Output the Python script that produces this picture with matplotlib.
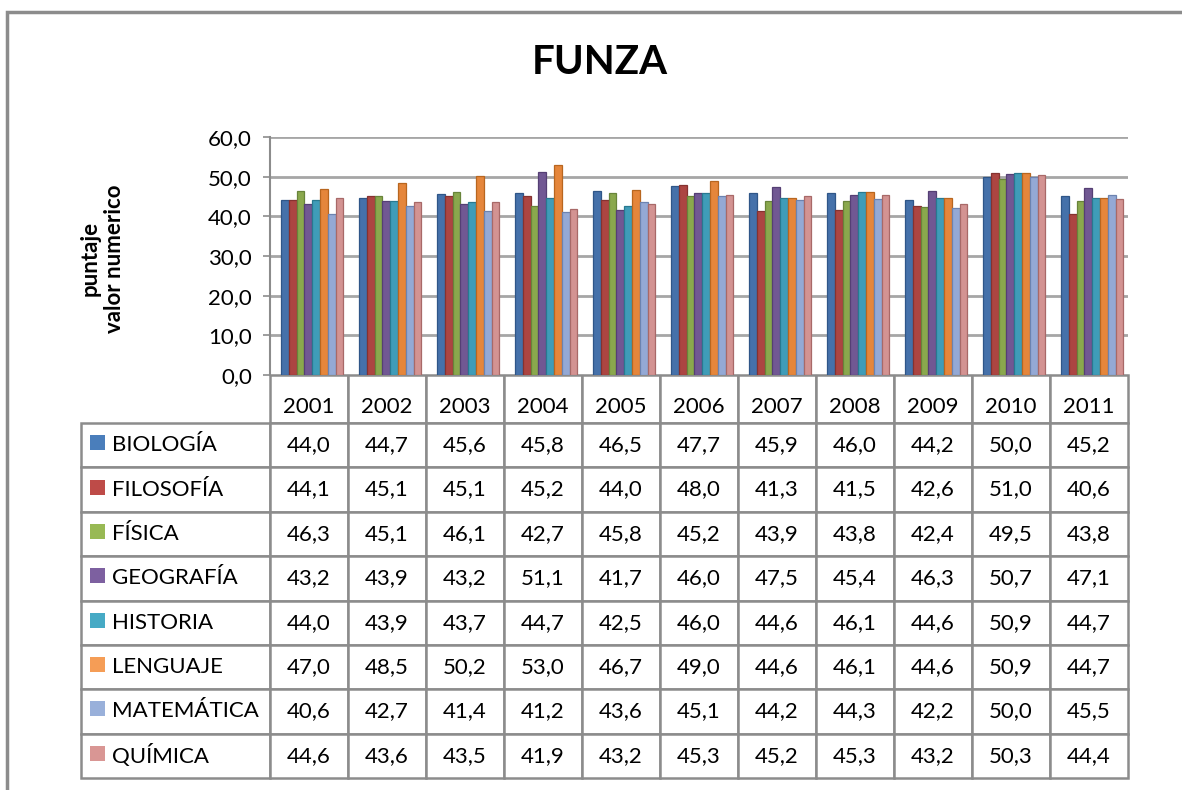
import numpy as np
import matplotlib
matplotlib.use("Agg")
import matplotlib.pyplot as plt
from matplotlib.table import Table
from matplotlib.patches import Rectangle
from matplotlib.ticker import FuncFormatter

plt.rcParams['font.family'] = ['Lato', 'DejaVu Sans']

years = ['2001', '2002', '2003', '2004', '2005', '2006', '2007', '2008', '2009', '2010', '2011']
subjects = ['BIOLOGÍA', 'FILOSOFÍA', 'FÍSICA', 'GEOGRAFÍA', 'HISTORIA',
            'LENGUAJE', 'MATEMÁTICA', 'QUÍMICA']

biologia = [44.0, 44.7, 45.6, 45.8, 46.5, 47.7, 45.9, 46.0, 44.2, 50.0, 45.2]
filosofia = [44.1, 45.1, 45.1, 45.2, 44.0, 48.0, 41.3, 41.5, 42.6, 51.0, 40.6]
fisica = [46.3, 45.1, 46.1, 42.7, 45.8, 45.2, 43.9, 43.8, 42.4, 49.5, 43.8]
geografia = [43.2, 43.9, 43.2, 51.1, 41.7, 46.0, 47.5, 45.4, 46.3, 50.7, 47.1]
historia = [44.0, 43.9, 43.7, 44.7, 42.5, 46.0, 44.6, 46.1, 44.6, 50.9, 44.7]
lenguaje = [47.0, 48.5, 50.2, 53.0, 46.7, 49.0, 44.6, 46.1, 44.6, 50.9, 44.7]
matematica = [40.6, 42.7, 41.4, 41.2, 43.6, 45.1, 44.2, 44.3, 42.2, 50.0, 45.5]
quimica = [44.6, 43.6, 43.5, 41.9, 43.2, 45.3, 45.2, 45.3, 43.2, 50.3, 44.4]

series = [biologia, filosofia, fisica, geografia, historia, lenguaje, matematica, quimica]
# bar colours (shaded) and legend key colours (flat)
colors = ['#4571aa', '#ac4542', '#8aa84d', '#715893', '#3f9cb8', '#e5863b', '#94a9d5', '#d39392']
keys = ['#4a7ebb', '#be4b48', '#98b954', '#7d60a0', '#46aac5', '#f59d56', '#99b0da', '#d99694']
edges = ['#2f5688', '#853230', '#68843a', '#553f74', '#287990', '#b8661f', '#6c83b0', '#a86968']

W, H = 1182, 790
fig = plt.figure(figsize=(W / 100, H / 100), dpi=100)

# outer chart frame (cropped in the original)
fig.add_artist(Rectangle((7 / W, -0.05), 1.2, 1 - 12 / H + 0.05, transform=fig.transFigure,
                         fill=False, edgecolor='#8c8c8c', linewidth=2.5))

# plot area in pixels
x0, x1, ybot, ytop = 270, 1128, 375, 137
aw, ah = x1 - x0, ybot - ytop
ax = fig.add_axes([x0 / W, (H - ybot) / H, aw / W, ah / H])

x = np.arange(len(years))
bw = 0.1
for i, vals in enumerate(series):
    ax.bar(x + (i - 3.5) * bw + 0.04, vals, bw, color=colors[i], edgecolor=edges[i],
           linewidth=0.9, zorder=3)

ax.set_ylim(0, 60)
ax.set_xlim(-0.5, len(years) - 0.5)
ax.set_yticks(np.arange(0, 61, 10))
ax.yaxis.set_major_formatter(FuncFormatter(lambda v, p: f"{v:.1f}".replace('.', ',')))
ax.grid(axis='y', color='#a6a6a6', linewidth=2, zorder=0)
ax.tick_params(axis='y', labelsize=16, length=5, width=1.2, color='#8c8c8c', pad=8)
ax.set_xticks(x, years)
ax.tick_params(axis='x', labelsize=16, length=0, pad=16)
for s in ['top', 'right', 'bottom']:
    ax.spines[s].set_visible(False)
ax.spines['left'].set_color('#8c8c8c')
ax.spines['left'].set_linewidth(1.5)

ax.set_ylabel('puntaje\nvalor numerico', fontsize=16, fontweight='bold', linespacing=1.2)
ax.yaxis.set_label_coords((125 - x0) / aw, 0.49)

fig.text(600 / W, 1 - 63 / H, 'FUNZA', fontsize=29, fontweight='bold', ha='center', va='center')

# data table under the plot (sizes in axes fractions so the table is not rescaled)
tl, tt, tb = 81, 375, 778
hdr_h = 48 / ah
row_h = (tb - tt - 48) / len(subjects) / ah
lab_w = (x0 - tl) / aw
col_w = 1.0 / len(years)
tbl = Table(ax, bbox=[0, -(tb - tt) / ah, 1.0, (tb - tt) / ah])
for j in range(len(years)):
    tbl.add_cell(0, j, width=col_w, height=hdr_h, text='', edgecolor='#8c8c8c')
for i, name in enumerate(subjects):
    c = tbl.add_cell(i + 1, -1, width=lab_w, height=row_h, text=name, loc='left',
                     edgecolor='#8c8c8c')
    c.PAD = 31 / (x0 - tl)
    for j in range(len(years)):
        tbl.add_cell(i + 1, j, width=col_w, height=row_h,
                     text=f"{series[i][j]:.1f}".replace('.', ','), loc='center',
                     edgecolor='#8c8c8c')
tbl.auto_set_font_size(False)
tbl.set_fontsize(16)
for cell in tbl.get_celld().values():
    cell.set_linewidth(1.8)
ax.add_table(tbl)

# legend keys inside the row labels
for i in range(len(subjects)):
    cy = tt + 48 + (i + 0.5) * row_h * ah - 3
    fig.add_artist(Rectangle((90 / W, (H - cy - 8) / H), 15 / W, 15 / H,
                             transform=fig.transFigure, facecolor=keys[i], edgecolor='none'))

fig.savefig('out.png', dpi=100)
